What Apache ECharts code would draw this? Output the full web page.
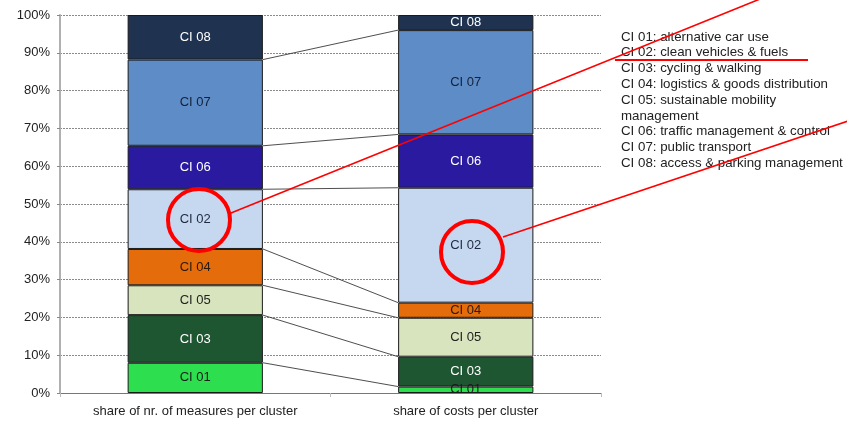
<!DOCTYPE html>
<html>
<head>
<meta charset="utf-8">
<script src="https://cdn.jsdelivr.net/npm/echarts@6/dist/echarts.min.js"></script>
<style>html,body{margin:0;padding:0;background:#fff}#c{width:847px;height:421px}</style>
</head>
<body>
<div id="c"></div>
<script>
// categories (x axis)
const categories = ['share of nr. of measures per cluster', 'share of costs per cluster'];
// stack order, bottom to top
const clusters = ['CI 01', 'CI 03', 'CI 05', 'CI 04', 'CI 02', 'CI 06', 'CI 07', 'CI 08'];
// share (%) per cluster: [measures, costs]
const ci01 = [8.0, 1.7];
const ci03 = [12.6, 7.9];
const ci05 = [7.9, 10.3];
const ci04 = [9.6, 4.0];
const ci02 = [15.8, 30.4];
const ci06 = [11.5, 14.1];
const ci07 = [22.8, 27.6];
const ci08 = [11.8, 4.0];
const values = [ci01, ci03, ci05, ci04, ci02, ci06, ci07, ci08];
// y tick values
const yTicks = [0, 10, 20, 30, 40, 50, 60, 70, 80, 90, 100];
// legend text
const legendLines = [
  'CI 01: alternative car use',
  'CI 02: clean vehicles & fuels',
  'CI 03: cycling & walking',
  'CI 04: logistics & goods distribution',
  'CI 05: sustainable mobility management',
  'CI 06: traffic management & control',
  'CI 07: public transport',
  'CI 08: access & parking management'
];

const colors = ['#2ddf4f', '#1f5632', '#d8e4bd', '#e46c0a', '#c6d8ef', '#2a1aa0', '#5d8cc6', '#1f3350'];
const labelColors = ['#1a1a1a', '#ffffff', '#222222', '#2a1a10', '#1f2a40', '#ffffff', '#14213a', '#ffffff'];

const FONT = 'Liberation Sans, Arial, sans-serif';

const series = clusters.map((name, i) => ({
  name: name,
  type: 'bar',
  stack: 'total',
  barWidth: '50%',
  xAxisIndex: 0,
  data: values[i],
  itemStyle: { color: colors[i], borderColor: '#1a1a1a', borderWidth: 1 },
  label: {
    show: true, position: 'inside', formatter: name,
    color: labelColors[i], fontFamily: FONT, fontSize: 13
  },
  emphasis: { disabled: true },
  z: 3
}));

// connector lines between segment tops (cumulative)
const cum = [0, 0];
for (let i = 0; i < values.length - 1; i++) {
  cum[0] += values[i][0];
  cum[1] += values[i][1];
  series.push({
    type: 'line',
    xAxisIndex: 1,
    data: [[0.75, +cum[0].toFixed(2)], [1.25, +cum[1].toFixed(2)]],
    symbol: 'none',
    silent: true,
    lineStyle: { color: '#3a3a3a', width: 0.9 },
    z: 2
  });
}

const chart = echarts.init(document.getElementById('c'), null, { renderer: 'canvas' });
chart.setOption({
  animation: false,
  backgroundColor: '#ffffff',
  grid: { left: 60, right: 246, top: 15, bottom: 28, containLabel: false },
  xAxis: [{
    type: 'category',
    data: categories,
    axisLine: { lineStyle: { color: '#777', width: 1 } },
    axisTick: { show: true, alignWithLabel: false, length: 4, lineStyle: { color: '#bbb' } },
    axisLabel: { color: '#222', fontFamily: FONT, fontSize: 13, margin: 12 }
  }, {
    type: 'value', min: 0, max: 2, show: false
  }],
  yAxis: {
    type: 'value', min: yTicks[0], max: yTicks[yTicks.length - 1], interval: 10,
    axisLine: { show: true, lineStyle: { color: '#b0b0b0', width: 2 } },
    axisTick: { show: true, length: 3, lineStyle: { color: '#888' } },
    axisLabel: { formatter: '{value}%', color: '#222', fontFamily: FONT, fontSize: 13, margin: 10 },
    splitLine: { show: true, lineStyle: { color: '#8a8a8a', type: [2, 1], width: 1 } }
  },
  series: series,
  graphic: [
    {
      type: 'text', left: 621, top: 29, z: 10,
      style: {
        text: legendLines.join('\n'), fill: '#222', font: '13.3px ' + FONT,
        lineHeight: 15.8, width: 230, overflow: 'break'
      }
    },
    // red annotation circles and lines
    { type: 'circle', shape: { cx: 199, cy: 220, r: 31 }, style: { fill: 'none', stroke: '#ff0000', lineWidth: 4 }, z: 20 },
    { type: 'circle', shape: { cx: 472, cy: 252, r: 31 }, style: { fill: 'none', stroke: '#ff0000', lineWidth: 4 }, z: 20 },
    { type: 'line', shape: { x1: 231, y1: 213, x2: 760, y2: -1 }, style: { stroke: '#ff0000', lineWidth: 1.6 }, z: 20 },
    { type: 'line', shape: { x1: 503, y1: 237, x2: 848, y2: 121 }, style: { stroke: '#ff0000', lineWidth: 1.6 }, z: 20 },
    { type: 'line', shape: { x1: 615, y1: 60, x2: 808, y2: 60 }, style: { stroke: '#ff0000', lineWidth: 2 }, z: 20 }
  ]
});
</script>
</body>
</html>
